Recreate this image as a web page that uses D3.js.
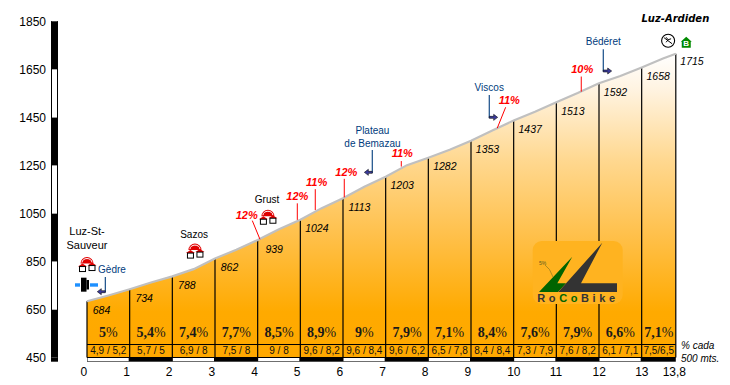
<!DOCTYPE html>
<html><head><meta charset="utf-8">
<script src="https://cdn.jsdelivr.net/npm/d3@7/dist/d3.min.js"></script>
<style>
html,body{margin:0;padding:0;background:#fff}
svg{display:block}
text{font-family:"Liberation Sans",Arial,sans-serif}
</style></head><body>
<svg id="c" width="730" height="385"></svg>
<script>
const kmMarks=[0,1,2,3,4,5,6,7,8,9,10,11,12,13,13.8];
const kmLabels=["0","1","2","3","4","5","6","7","8","9","10","11","12","13","13,8"];
const elevations=[684,734,788,862,939,1024,1113,1203,1282,1353,1437,1513,1592,1658,1715];
const profileKm=[0,.5,1,1.5,2,2.5,3,3.5,4,4.5,5,5.5,6,6.5,7,7.5,8,8.5,9,9.5,10,10.5,11,11.5,12,12.5,13,13.5,13.8];
const profileElev=[684,708,734,762,788,818,862,899,939,984,1024,1072,1113,1161,1203,1251,1282,1315,1353,1395,1437,1473,1513,1551,1592,1622,1658,1695,1715];
const gradients=["5%","5,4%","7,4%","7,7%","8,5%","8,9%","9%","7,9%","7,1%","8,4%","7,6%","7,9%","6,6%","7,1%"];
const halves=["4,9 / 5,2","5,7 / 5","6,9 / 8","7,5 / 8","9 / 8","9,6 / 8,2","9,6 / 8,4","9,6 / 6,2","6,5 / 7,8","8,4 / 8,4","7,3 / 7,9","7,6 / 8,2","6,1 / 7,1","7,5/6,5"];
const yTicks=[450,650,850,1050,1250,1450,1650,1850];
// steep ramps: text, label km/m, leader start km/m, leader tip km/m
const ramps=[
["12%",3.743,1043,3.874,1020,4.054,942],
["12%",4.929,1121,4.929,1092,4.929,1023],
["11%",5.383,1181,5.35,1151,5.35,1064],
["12%",6.077,1223,6.03,1194,6.03,1117],
["11%",7.389,1299,7.366,1268,7.366,1245],
["11%",9.897,1522,9.812,1492,9.615,1405],
["10%",11.608,1650,11.584,1620,11.584,1557]];
// turn-offs: label lines, label km, label m's, stem km, stem top, stem bottom, arrow end km
const turnoffs=[
[["Gèdre"],.586,[815],.429,785,724,.241],
[["Plateau","de Bemazau"],6.69,[1395,1343],6.686,1314,1221,6.5],
[["Viscos"],9.428,[1574],9.428,1543,1450,9.625],
[["Bédéret"],12.1,[1765],12.1,1734,1643,12.297]];
const villages=[[0,835],[2.53,891],[4.24,1032]];
const villageNames=[["Luz-St-",0,977],["Sauveur",0,919],["Sazos",2.51,962],["Grust",4.22,1107]];

const svg=d3.select("#c");
const x=d3.scaleLinear().domain([0,13.8]).range([87,675.8]);
const y=d3.scaleLinear().domain([450,1850]).range([357.5,21.3]);
const defs=svg.append("defs");
const g=defs.append("linearGradient").attr("id","fade").attr("gradientUnits","userSpaceOnUse")
 .attr("x1",0).attr("x2",0).attr("y1",y(1715)).attr("y2",y(450));
[[0,"#ffffff"],[.12,"#fff3e0"],[.35,"#ffd890"],[.6,"#ffc04a"],[.85,"#ffaa00"],[1,"#ffa800"]]
 .forEach(s=>g.append("stop").attr("offset",s[0]).attr("stop-color",s[1]));

// area + ridge
const pts=profileKm.map((k,i)=>[k,profileElev[i]]);
svg.append("path").datum(pts).attr("fill","url(#fade)")
 .attr("d",d3.area().x(d=>x(d[0])).y0(y(450)).y1(d=>y(d[1])));
// km dividers
svg.append("g").selectAll("line").data(kmMarks).join("line")
 .attr("x1",d=>x(d)).attr("x2",d=>x(d)).attr("y1",(d,i)=>y(elevations[i])).attr("y2",y(450))
 .attr("stroke","#000").attr("stroke-width",1.2);
svg.append("path").datum(pts).attr("fill","none").attr("stroke","#c0c0c0").attr("stroke-width",2.2)
 .attr("d",d3.line().x(d=>x(d[0])).y(d=>y(d[1])));
// band rule
svg.append("line").attr("x1",x(0)).attr("x2",x(13.8)).attr("y1",344.5).attr("y2",344.5).attr("stroke","#000");
// bottom strip
svg.append("rect").attr("x",x(0)).attr("width",x(13.8)-x(0)).attr("y",357).attr("height",4.7).attr("fill","#000");
svg.append("g").selectAll("rect").data(kmMarks.slice(0,-1).filter(d=>d%2===0)).join("rect")
 .attr("x",d=>x(d)+.5).attr("width",d=>x(d+1)-x(d)-1.5).attr("y",358).attr("height",3.2).attr("fill","#fff");
// y bar
const bands=d3.pairs(yTicks);
svg.append("g").selectAll("rect").data(bands).join("rect")
 .attr("x",51).attr("width",7).attr("y",d=>y(d[1])).attr("height",d=>y(d[0])-y(d[1]))
 .attr("fill",(d,i)=>i%2===0?"#000":"#fff");
svg.append("rect").attr("x",51).attr("width",7).attr("y",y(450)).attr("height",4.2).attr("fill","#000");
svg.append("g").selectAll("line").data([51.5,57.5]).join("line")
 .attr("x1",d=>d).attr("x2",d=>d).attr("y1",y(1850)).attr("y2",y(450)).attr("stroke","#000");
// axes
const yAx=svg.append("g").attr("transform","translate(46,0)")
 .call(d3.axisLeft(y).tickValues(yTicks).tickSize(0).tickPadding(0).tickFormat(d3.format("d")));
yAx.select(".domain").remove();
yAx.selectAll("text").attr("font-size",12).attr("font-family","Liberation Sans").attr("fill","#000").attr("dy","0.35em");
const xAx=svg.append("g").attr("transform","translate(0,362)")
 .call(d3.axisBottom(x).tickValues(kmMarks).tickSize(0).tickPadding(0).tickFormat((d,i)=>kmLabels[i]));
xAx.select(".domain").remove();
xAx.selectAll("text").attr("font-size",12).attr("font-family","Liberation Sans").attr("fill","#000")
 .attr("y",9.7).attr("dy","0.35em").attr("text-anchor",(d,i)=>i===14?"middle":"start")
 .attr("dx",(d,i)=>i===14?-2:-7);
// elevation labels
svg.append("g").selectAll("text").data(elevations.slice(0,-1)).join("text")
 .attr("x",(d,i)=>x(kmMarks[i])+(i<4?14.5:16.5)).attr("y",d=>y(d)+9).attr("dy","0.35em")
 .attr("text-anchor","middle").attr("font-style","italic").attr("font-size",10.5).text(d=>d);
svg.append("text").attr("x",x(14.18)).attr("y",y(1685)).attr("dy","0.35em").attr("text-anchor","middle")
 .attr("font-style","italic").attr("font-size",10.5).text(elevations[14]);
// percent labels
const pg=svg.append("g").selectAll("text").data(gradients).join("text")
 .attr("x",(d,i)=>(x(kmMarks[i])+x(kmMarks[i+1]))/2).attr("y",331.7).attr("dy","0.35em").attr("text-anchor","middle")
 .style("font-family","'Liberation Serif',serif").attr("font-weight","bold").attr("font-size",14).attr("fill","#1a1a1a");
pg.append("tspan").text(d=>d.slice(0,-1));
pg.append("tspan").attr("font-weight","normal").text("%");
// half-km labels
svg.append("g").selectAll("text").data(halves).join("text")
 .attr("x",(d,i)=>(x(kmMarks[i])+x(kmMarks[i+1]))/2).attr("y",350.5).attr("dy","0.35em").attr("text-anchor","middle")
 .attr("font-size",10).attr("fill","#111").text(d=>d);
// note
svg.append("text").attr("x",681).attr("y",345.7).attr("dy","0.35em").attr("font-style","italic").attr("font-size",10).text("% cada");
svg.append("text").attr("x",681).attr("y",358).attr("dy","0.35em").attr("font-style","italic").attr("font-size",10).text("500 mts.");
// ramps
const rg=svg.append("g");
ramps.forEach(r=>{
 rg.append("line").attr("x1",x(r[3])).attr("y1",y(r[4])).attr("x2",x(r[5])).attr("y2",y(r[6])).attr("stroke","#f00").attr("stroke-width",1);
 rg.append("text").attr("x",x(r[1])).attr("y",y(r[2])).attr("dy","0.35em").attr("text-anchor","middle")
  .attr("font-weight","bold").attr("font-style","italic").attr("font-size",11).attr("fill","#f00").text(r[0]);
});
// turn-offs
const tg=svg.append("g");
turnoffs.forEach(t=>{
 t[0].forEach((s,i)=>tg.append("text").attr("x",x(t[1])).attr("y",y(t[2][i])).attr("dy","0.35em").attr("text-anchor","middle")
   .attr("font-size",10).attr("fill","#003c7d").text(s));
 const sx=x(t[3]),ey=y(t[5]),ex=x(t[6]),dir=ex>sx?1:-1;
 tg.append("path").attr("d",d3.line()([[sx,y(t[4])],[sx,ey],[ex-dir*3,ey]])).attr("fill","none").attr("stroke","#003c7d").attr("stroke-width",1.1);
 tg.append("path").attr("d",d3.line()([[ex,ey],[ex-dir*4,ey-3],[ex-dir*4,ey-1],[sx,ey-1],[sx,ey+1],[ex-dir*4,ey+1],[ex-dir*4,ey+3]])+"Z")
   .attr("fill","#3a3a9c").attr("stroke","#111").attr("stroke-width",.6);
});
// villages
function house(s,hx,hy){
 const h=s.append("g").attr("transform",`translate(${hx},${hy})`);
 h.append("path").attr("d","M-6.5,-1.5 A6.5,6.5 0 0 1 6.5,-1.5 Z").attr("fill","#e00000");
 h.append("path").attr("d","M-5,-2.5 A5,4 0 0 1 5,-2.5").attr("fill","none").attr("stroke","#fff").attr("stroke-width",1);
 [[-8,-1],[1.5,-2]].forEach(b=>{
  h.append("path").attr("d",`M${b[0]-1},${b[1]+2.5} L${b[0]+3.5},${b[1]-.5} L${b[0]+8},${b[1]+2.5}Z`).attr("fill","#e00000");
  h.append("rect").attr("x",b[0]+.5).attr("y",b[1]+2.5).attr("width",6).attr("height",5).attr("fill","#fff").attr("stroke","#000").attr("stroke-width",1);
 });
}
villages.forEach(v=>house(svg,x(v[0]),y(v[1])));
svg.append("g").selectAll("text").data(villageNames).join("text")
 .attr("x",d=>x(d[1])).attr("y",d=>y(d[2])).attr("dy","0.35em").attr("text-anchor","middle")
 .attr("font-size",(d,i)=>i<2?11:10).attr("fill","#000").text(d=>d[0]);
// tunnel
const tun=svg.append("g").attr("transform",`translate(${x(0)},${y(752)})`);
tun.append("rect").attr("x",-12).attr("y",-1.7).attr("width",5).attr("height",3.4).attr("fill","#1e90ff");
tun.append("rect").attr("x",3).attr("y",-1.7).attr("width",8).attr("height",3.4).attr("fill","#1e90ff");
tun.append("rect").attr("x",-6).attr("y",-7.3).attr("width",5.5).attr("height",14).attr("fill","#000");
tun.append("rect").attr("x",-.5).attr("y",-5).attr("width",2.5).attr("height",9.5).attr("fill","#000");
// summit
svg.append("text").attr("x",x(13.79)).attr("y",y(1860)).attr("dy","0.35em").attr("text-anchor","middle")
 .attr("font-weight","bold").attr("font-style","italic").style("font-family","'DejaVu Sans',sans-serif").attr("font-size",10).text("Luz-Ardiden");
const ski=svg.append("g").attr("transform",`translate(${x(13.62)},${y(1769)})`);
ski.append("circle").attr("r",6.5).attr("fill","#fff").attr("stroke","#000").attr("stroke-width",1.1);
ski.append("path").attr("d","M-4,-3 L4,3 M-2,-3.5 L0,-1 L-2,1.5 M0,-1 L3,-2").attr("fill","none").attr("stroke","#000").attr("stroke-width",1);
const bi=svg.append("g").attr("transform",`translate(${x(14.045)},${y(1761)})`);
bi.append("path").attr("d","M0,-6 L5.5,-1 L4.5,-1 L4.5,5 L-4.5,5 L-4.5,-1 L-5.5,-1Z").attr("fill","#008a00");
bi.append("text").attr("y",3.6).attr("text-anchor","middle").attr("font-size",8).attr("font-weight","bold").attr("fill","#fff").text("B");
// logo
const lg=svg.append("g");
lg.append("rect").attr("x",532.7).attr("y",241).attr("width",90).attr("height",63).attr("rx",9).attr("fill","#ffb320");
lg.append("path").attr("d","M558,292 L539,292 L572.3,256.7 L557.3,283.3 L566,283.3 Z").attr("fill","#006400");
lg.append("path").attr("d","M602.3,242.7 L581,283.3 L617,283.3 L617,292 L558.3,292 Z").attr("fill","#333333");
lg.append("path").attr("d","M545,265 Q550,268 553,277").attr("fill","none").attr("stroke","#8a7a20").attr("stroke-width",.7);
lg.append("text").attr("x",542.5).attr("y",264.5).attr("text-anchor","middle").attr("font-size",5).attr("fill","#5a5a20").text("5%");
const logoT=lg.append("text").attr("x",578).attr("y",298).attr("dy","0.35em").attr("text-anchor","middle")
 .attr("font-weight","bold").attr("font-size",11).attr("letter-spacing",3.6).attr("fill","#333");
[["Ro","#333"],["Co","#006400"],["Bike","#333"]].forEach(p=>logoT.append("tspan").attr("fill",p[1]).text(p[0]));
</script>
</body></html>
